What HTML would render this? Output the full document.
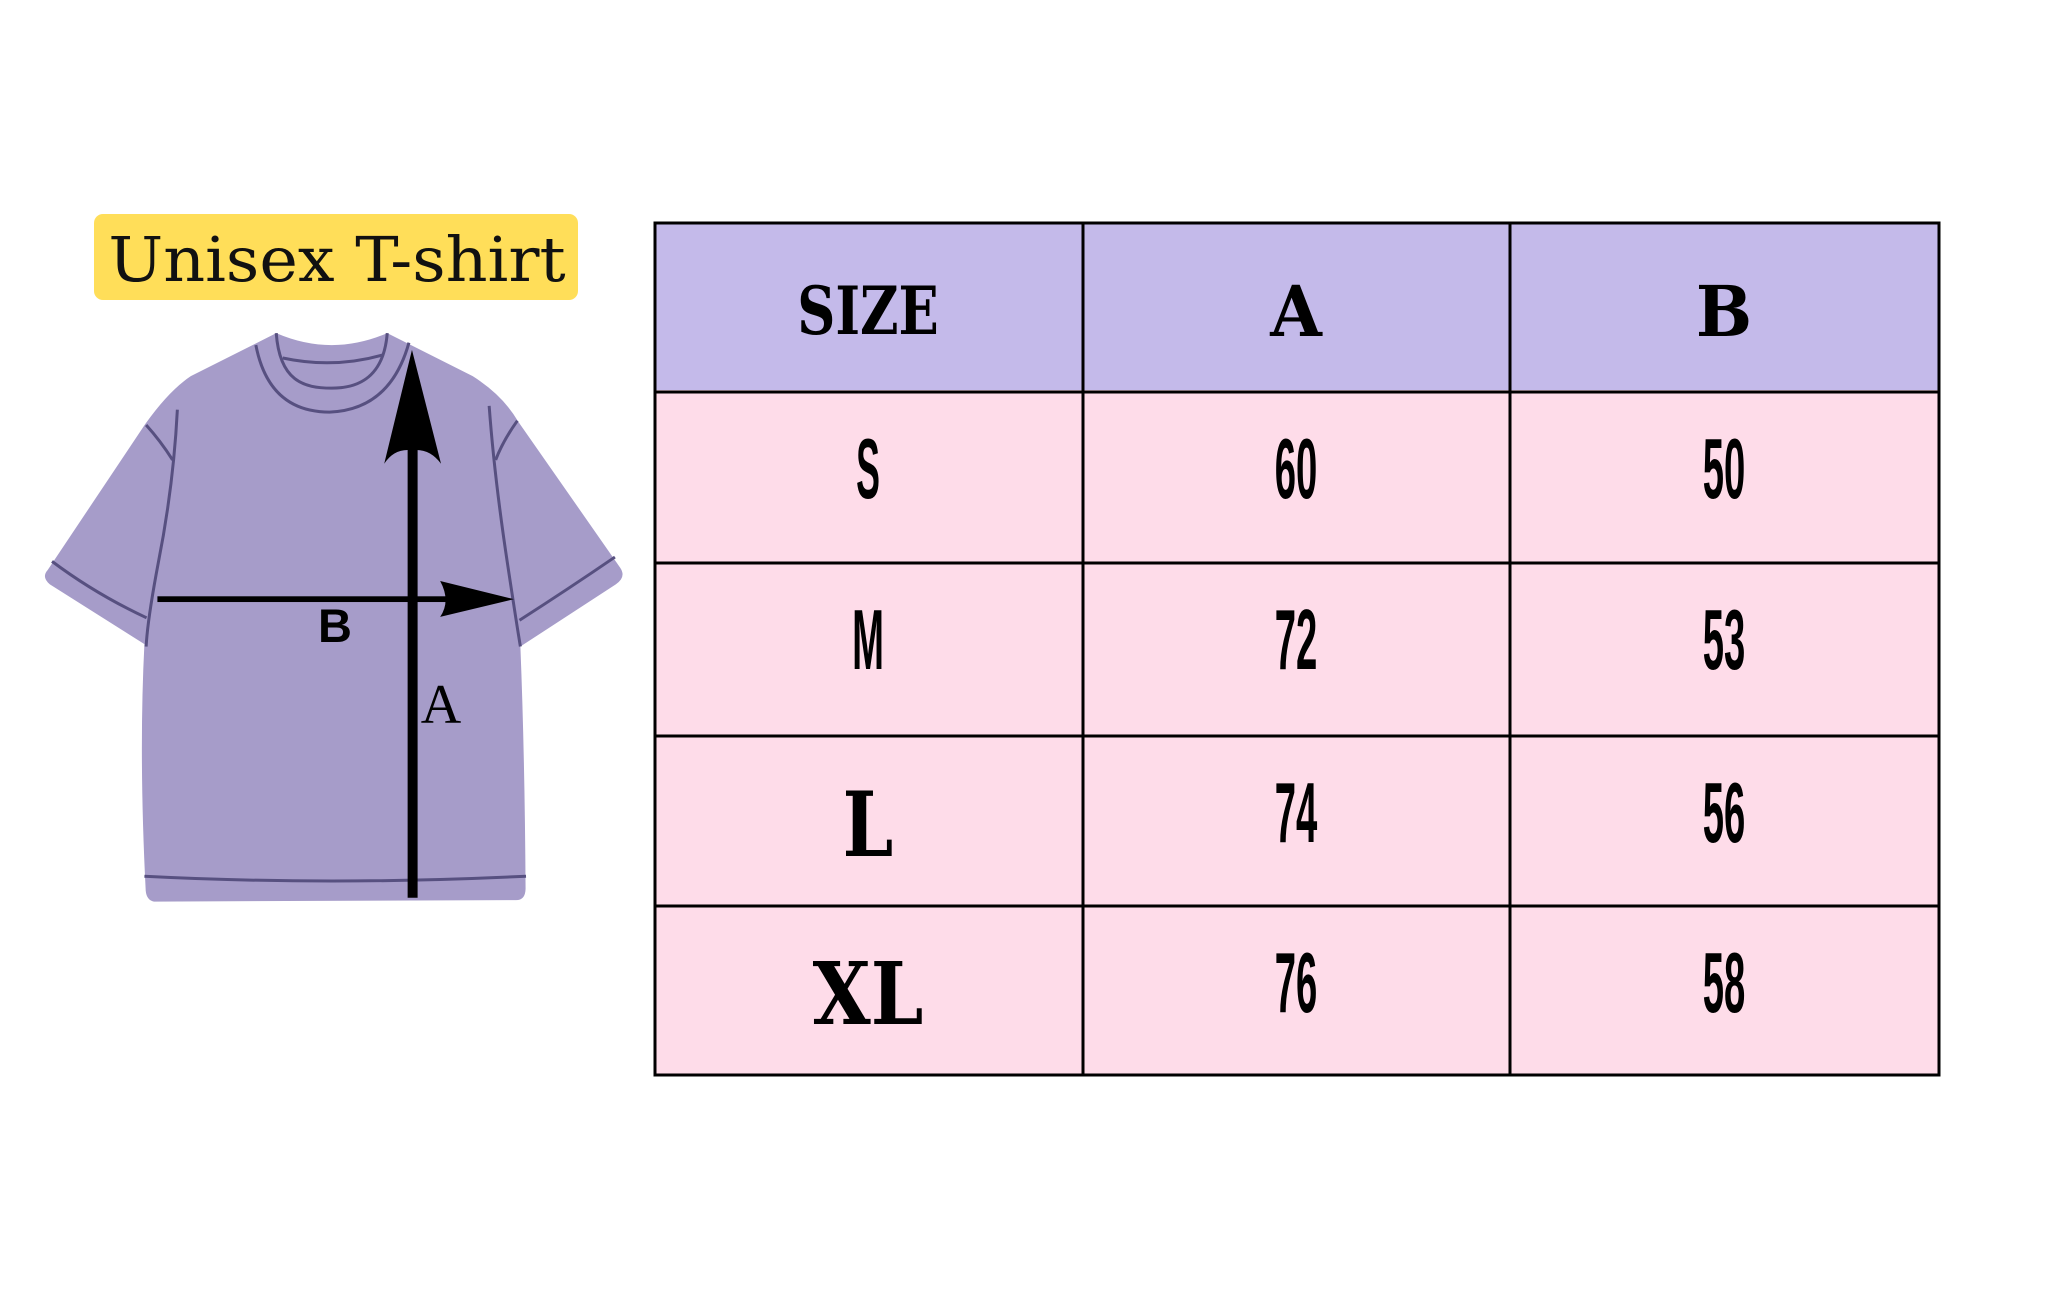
<!DOCTYPE html>
<html><head><meta charset="utf-8"><style>
html,body{margin:0;padding:0;background:#fff;}
body{width:2048px;height:1303px;position:relative;overflow:hidden;}
svg{position:absolute;left:0;top:0;}
</style></head><body>
<svg width="2048" height="1303" viewBox="0 0 2048 1303" xmlns="http://www.w3.org/2000/svg">
<rect x="94" y="214" width="484" height="86" rx="9" fill="#ffde59"/>
<text x="337" y="281" text-anchor="middle" font-family="DejaVu Serif, serif" font-weight="200" font-size="62" fill="#111" transform="translate(337 0) scale(1.05 1) translate(-337 0)">Unisex T-shirt</text>

<g transform="translate(0 180) scale(0.43365 0.4785)">
<path d="M637,320 Q765,370 893,320 L1090,410 Q1160,450 1195,505 L1430,810 Q1445,830 1420,845 L1200,975 Q1210,1200 1212,1480 Q1212,1505 1190,1505 L355,1508 Q338,1505 336,1485 Q320,1200 333,970 L115,845 Q95,830 110,815 L335,510 Q390,440 440,410 Z" fill="#a69cc9"/>
<g fill="none" stroke="#575080" stroke-width="3">
<path d="M637,320 C645,420 700,435 765,435 C830,435 885,410 893,320" vector-effect="non-scaling-stroke"/>
<path d="M652,372 Q770,395 885,365" vector-effect="non-scaling-stroke"/>
<path d="M590,345 Q620,485 760,485 Q900,480 943,340" vector-effect="non-scaling-stroke"/>
<path d="M409,480 Q400,640 365,800 Q340,920 337,975" vector-effect="non-scaling-stroke"/>
<path d="M337,512 Q370,545 398,585" vector-effect="non-scaling-stroke"/>
<path d="M120,797 Q220,865 338,915" vector-effect="non-scaling-stroke"/>
<path d="M1128,472 Q1140,620 1170,800 Q1190,920 1200,975" vector-effect="non-scaling-stroke"/>
<path d="M1193,503 Q1160,545 1143,585" vector-effect="non-scaling-stroke"/>
<path d="M1418,788 Q1310,855 1198,920" vector-effect="non-scaling-stroke"/>
<path d="M333,1455 Q760,1475 1213,1455" vector-effect="non-scaling-stroke"/>
</g>
<rect x="940" y="560" width="23" height="940" fill="#000"/>
<path d="M950,355 L1017,593 Q990,560 950,565 Q910,560 886,593 Z" fill="#000"/>
<rect x="363" y="870" width="680" height="12" fill="#000"/>
<path d="M1185,876 L1015,913 Q1040,880 1015,838 Z" fill="#000"/>
</g>
<text x="335" y="642" text-anchor="middle" font-family="Liberation Sans, sans-serif" font-weight="bold" font-size="47" fill="#000">B</text>
<text x="441" y="723" text-anchor="middle" font-family="Liberation Serif, serif" font-size="56" fill="#000">A</text>

<rect x="654" y="223" width="1285" height="167" fill="#c4baea"/>
<rect x="654" y="390" width="1285" height="685" fill="#fedce9"/>
<g stroke="#000" stroke-width="3" fill="none">
<rect x="655" y="223" width="1284" height="852"/>
<line x1="1083" y1="223" x2="1083" y2="1075"/>
<line x1="1510" y1="223" x2="1510" y2="1075"/>
<line x1="655" y1="392" x2="1939" y2="392"/>
<line x1="655" y1="563" x2="1939" y2="563"/>
<line x1="655" y1="736" x2="1939" y2="736"/>
<line x1="655" y1="906" x2="1939" y2="906"/>
</g>
<g font-family="DejaVu Serif, serif" font-weight="bold" fill="#000" text-anchor="middle">
<text x="868" y="334" font-size="66" transform="translate(868 0) scale(0.8 1) translate(-868 0)">SIZE</text>
<text x="1296" y="336" font-size="70" transform="translate(1296 0) scale(0.95 1) translate(-1296 0)">A</text>
<text x="1724" y="336" font-size="70" transform="translate(1724 0) scale(0.95 1) translate(-1724 0)">B</text>
<text x="868" y="856" font-size="90" transform="translate(868 0) scale(0.8 1) translate(-868 0)">L</text>
<text x="868" y="1024" font-size="86" transform="translate(868 0) scale(0.87 1) translate(-868 0)">XL</text>
</g>
<g font-family="Liberation Sans, sans-serif" font-weight="bold" font-size="85" fill="#000" text-anchor="middle">
<text x="868" y="498" transform="translate(868 0) scale(0.42 1) translate(-868 0)">S</text>
<text x="868" y="669" transform="translate(868 0) scale(0.45 1) translate(-868 0)">M</text>
<text x="1296" y="498" transform="translate(1296 0) scale(0.45 1) translate(-1296 0)">60</text>
<text x="1724" y="498" transform="translate(1724 0) scale(0.45 1) translate(-1724 0)">50</text>
<text x="1296" y="669" transform="translate(1296 0) scale(0.45 1) translate(-1296 0)">72</text>
<text x="1724" y="669" transform="translate(1724 0) scale(0.45 1) translate(-1724 0)">53</text>
<text x="1296" y="842" transform="translate(1296 0) scale(0.45 1) translate(-1296 0)">74</text>
<text x="1724" y="842" transform="translate(1724 0) scale(0.45 1) translate(-1724 0)">56</text>
<text x="1296" y="1012" transform="translate(1296 0) scale(0.45 1) translate(-1296 0)">76</text>
<text x="1724" y="1012" transform="translate(1724 0) scale(0.45 1) translate(-1724 0)">58</text>
</g>
</svg>
</body></html>
